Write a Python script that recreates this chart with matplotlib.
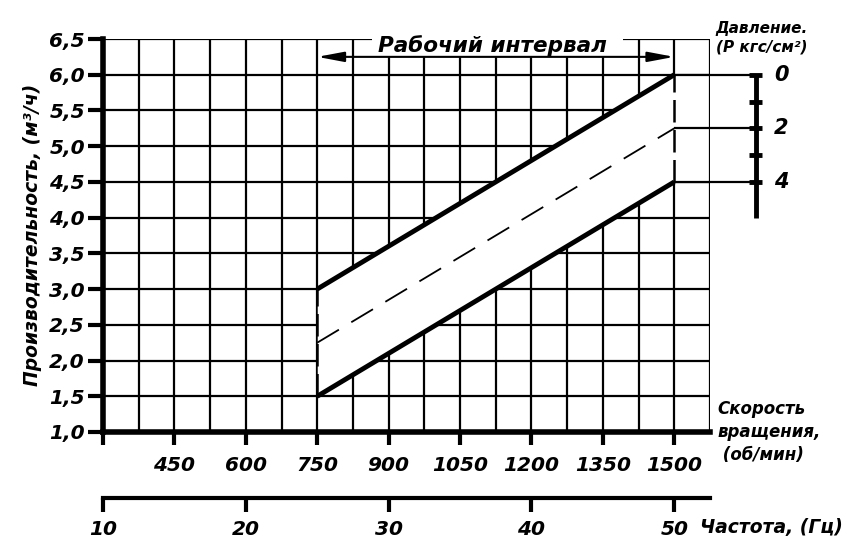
import numpy as np
import matplotlib
matplotlib.use('Agg')
import matplotlib.pyplot as plt

plt.rcParams['font.family'] = ['DejaVu Sans']
plt.rcParams['font.weight'] = 'bold'
plt.rcParams['font.style'] = 'oblique'

# рабочий интервал по частоте (Гц) и производительность (м3/ч)
freq_work = [25, 50]
q_p0 = [3.0, 6.0]    # давление 0 кгс/см2
q_p2 = [2.25, 5.25]  # давление 2 кгс/см2
q_p4 = [1.5, 4.5]    # давление 4 кгс/см2

# оси
q_ticks = [1.0, 1.5, 2.0, 2.5, 3.0, 3.5, 4.0, 4.5, 5.0, 5.5, 6.0, 6.5]
q_labels = ['1,0', '1,5', '2,0', '2,5', '3,0', '3,5', '4,0', '4,5', '5,0', '5,5', '6,0', '6,5']
rpm_ticks = [10, 15, 20, 25, 30, 35, 40, 45, 50]
rpm_labels = ['', '450', '600', '750', '900', '1050', '1200', '1350', '1500']
freq_ticks = [10, 20, 30, 40, 50]
freq_labels = ['10', '20', '30', '40', '50']

# шкала давления
p_ticks = [0, 1, 2, 3, 4]
p_labels = ['0', '', '2', '', '4']
p_q = [6.0 - 0.375 * p for p in p_ticks]

W, H = 862, 559
fig = plt.figure(figsize=(W / 100, H / 100), dpi=100)
ax = fig.add_axes([103 / W, 1 - 432 / H, (710 - 103) / W, (432 - 39) / H])
ax.set_xlim(10, 52.5)
ax.set_ylim(1.0, 6.5)

# сетка
grid_x = np.arange(12.5, 52.6, 2.5)
tops = [6.25 if 29 < x < 46 else 6.5 for x in grid_x]
ax.vlines(grid_x, 1.0, tops, color='k', lw=1.6, zorder=1)
ax.hlines(np.arange(1.5, 6.1, 0.5), 10, 52.5, color='k', lw=1.6, zorder=1)
ax.hlines([6.5, 6.5], [10, 46.4], [28.8, 52.5], color='k', lw=1.6, zorder=1)

# белая полоса рабочего интервала
ax.fill_between(freq_work, q_p4, q_p0, color='white', lw=0, zorder=2)
ax.fill_between([50, 52.5], q_p4[1], q_p0[1], color='white', lw=0, zorder=2)
ax.vlines(52.5, q_p4[1], q_p0[1], color='k', lw=1.6, zorder=3)

# линии производительности
ax.plot(freq_work, q_p0, color='k', lw=3.5, zorder=5, solid_capstyle='butt')
ax.plot(freq_work, q_p4, color='k', lw=3.5, zorder=5, solid_capstyle='butt')
ax.plot(freq_work, q_p2, color='k', lw=1.3, zorder=5, dashes=(14, 8))
ax.plot([25, 25], [q_p4[0], q_p0[0]], color='k', lw=1.8, zorder=5, dashes=(9, 3))
ax.plot([50, 50], [q_p4[1], q_p0[1]], color='k', lw=1.8, zorder=5, dashes=(9, 3))

# стрелка рабочего интервала
ax.annotate('', xy=(25, 6.25), xytext=(50, 6.25),
            arrowprops=dict(arrowstyle='<|-|>,head_length=0.8,head_width=0.15',
                            mutation_scale=20, lw=1.5, color='k',
                            shrinkA=0, shrinkB=0), zorder=6)
ax.text(37.3, 6.32, 'Рабочий интервал', ha='center', va='baseline',
        fontsize=15.5, zorder=6)

# выноски к шкале давления
ax.hlines([q_p0[1], q_p2[1], q_p4[1]], 50, 55.7, color='k', lw=1.6,
          zorder=4, clip_on=False)
ax.plot([55.7, 55.7], [6.0, 4.0], color='k', lw=3.5, clip_on=False,
        solid_capstyle='butt')
ax.hlines(p_q, 55.2, 56.15, color='k', lw=3.5, clip_on=False)
for q, lab in zip(p_q, p_labels):
    ax.text(57.0, q, lab, ha='left', va='center', fontsize=15)

# оси
for s in ['top', 'right']:
    ax.spines[s].set_visible(False)
ax.spines['left'].set_linewidth(4)
ax.spines['bottom'].set_linewidth(4)
ax.spines['left'].set_zorder(7)
ax.spines['bottom'].set_zorder(7)
ax.set_yticks(q_ticks, q_labels)
ax.set_xticks(rpm_ticks, rpm_labels)
ax.tick_params(axis='y', length=11, width=3, pad=2, labelsize=14.5)
ax.tick_params(axis='x', length=9.5, width=3, pad=8, labelsize=14.5)

sec = ax.secondary_xaxis(-(498 - 432) / (432 - 39))
sec.set_xticks(freq_ticks, freq_labels)
sec.spines['bottom'].set_linewidth(3)
sec.tick_params(axis='x', length=10, width=3, pad=6, labelsize=14.5)

# подписи
fig.text(33 / W, 1 - 235 / H, 'Производительность, (м³/ч)', rotation=90,
         ha='center', va='center', fontsize=13.5)
fig.text(762 / W, 1 - 29 / H, 'Давление.', ha='center', va='center', fontsize=11)
fig.text(762 / W, 1 - 47 / H, '(Р кгс/см²)', ha='center', va='center', fontsize=11)
fig.text(717 / W, 1 - 432 / H, 'Скорость\nвращения,\n (об/мин)', ha='left',
         va='center', fontsize=12, linespacing=1.35)
fig.text(700 / W, 1 - 528 / H, 'Частота, (Гц)', ha='left', va='center', fontsize=13.5)

fig.savefig('out.png', dpi=100)
